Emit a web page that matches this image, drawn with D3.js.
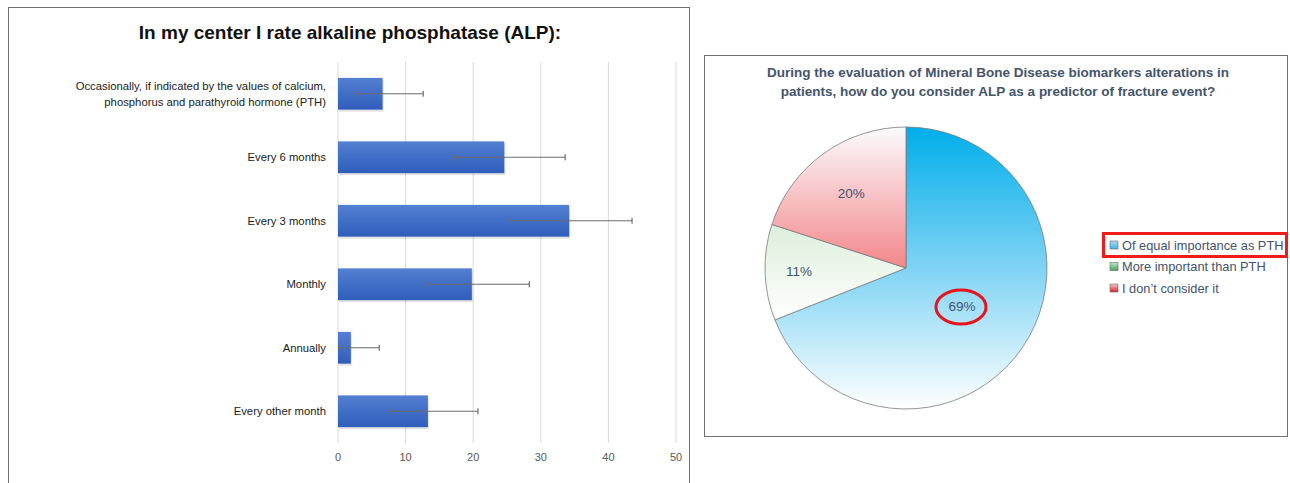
<!DOCTYPE html>
<html>
<head>
<meta charset="utf-8">
<script src="https://cdn.jsdelivr.net/npm/d3@7"></script>
<style>
  body { margin: 0; background: #fff; }
  svg { display: block; font-family: 'Liberation Sans', Arial, sans-serif; }
</style>
</head>
<body>
<svg id="chart" width="1290" height="483"></svg>
<script>
// bar chart data
var categories = [
  'Occasionally, if indicated by the values of calcium,|phosphorus and parathyroid hormone (PTH)',
  'Every 6 months',
  'Every 3 months',
  'Monthly',
  'Annually',
  'Every other month'
];
var values = [6.6, 24.6, 34.2, 19.8, 1.9, 13.3];
var errLow = [2.8, 17.2, 25.4, 13.2, 0.1, 7.7];
var errHigh = [12.6, 33.6, 43.5, 28.3, 6.1, 20.7];
var xTicks = [0, 10, 20, 30, 40, 50];

// pie data
var pieLabels = ['Of equal importance as PTH', 'More important than PTH', 'I don\u2019t consider it'];
var pieValues = [69, 11, 20];
var pieText = ['69%', '11%', '20%'];

var svg = d3.select('#chart');
var defs = svg.append('defs');

// ---------- left panel ----------
svg.append('rect')
  .attr('x', 8.5).attr('y', 7.5)
  .attr('width', 681).attr('height', 490)
  .attr('fill', '#fff').attr('stroke', '#6f6f6f').attr('stroke-width', 1);

svg.append('text')
  .attr('x', 350).attr('y', 39)
  .attr('text-anchor', 'middle')
  .attr('font-size', 19).attr('font-weight', 'bold').attr('fill', '#111')
  .text('In my center I rate alkaline phosphatase (ALP):');

var x = d3.scaleLinear().domain([0, 50]).range([338, 676]);
var y = d3.scaleBand().domain(d3.range(categories.length)).range([62, 443]).paddingInner(0.5).paddingOuter(0.25);

var barGrad = defs.append('linearGradient').attr('id', 'barGrad')
  .attr('x1', 0).attr('y1', 0).attr('x2', 0).attr('y2', 1);
barGrad.append('stop').attr('offset', '0%').attr('stop-color', '#5480d2');
barGrad.append('stop').attr('offset', '100%').attr('stop-color', '#2f5dbb');

var g = svg.append('g');

g.selectAll('line.grid')
  .data(xTicks)
  .enter().append('line')
  .attr('class', 'grid')
  .attr('x1', function(d) { return x(d); })
  .attr('x2', function(d) { return x(d); })
  .attr('y1', 62).attr('y2', 443)
  .attr('stroke', '#d9d9d9').attr('stroke-width', 1);

g.selectAll('text.tick')
  .data(xTicks)
  .enter().append('text')
  .attr('class', 'tick')
  .attr('x', function(d) { return x(d); })
  .attr('y', 461)
  .attr('text-anchor', 'middle')
  .attr('font-size', 11).attr('fill', '#595959')
  .text(function(d) { return d; });

// shadow under bars
g.selectAll('rect.shadow')
  .data(values)
  .enter().append('rect')
  .attr('x', x(0) + 1)
  .attr('y', function(d, i) { return y(i) + 2; })
  .attr('width', function(d) { return x(d) - x(0); })
  .attr('height', y.bandwidth())
  .attr('fill', '#000').attr('opacity', 0.12);

g.selectAll('rect.bar')
  .data(values)
  .enter().append('rect')
  .attr('class', 'bar')
  .attr('x', x(0))
  .attr('y', function(d, i) { return y(i); })
  .attr('width', function(d) { return x(d) - x(0); })
  .attr('height', y.bandwidth())
  .attr('fill', 'url(#barGrad)');

var err = g.selectAll('g.err')
  .data(values)
  .enter().append('g')
  .attr('class', 'err')
  .attr('transform', function(d, i) { return 'translate(0,' + (y(i) + y.bandwidth() / 2) + ')'; });

err.append('line')
  .attr('x1', function(d, i) { return x(errLow[i]); })
  .attr('x2', function(d, i) { return x(errHigh[i]); })
  .attr('stroke', '#6b6b6b').attr('stroke-width', 1.2);
err.append('line')
  .attr('x1', function(d, i) { return x(errLow[i]); })
  .attr('x2', function(d, i) { return x(errLow[i]); })
  .attr('y1', -3).attr('y2', 3)
  .attr('stroke', '#6b6b6b').attr('stroke-width', 1.2);
err.append('line')
  .attr('x1', function(d, i) { return x(errHigh[i]); })
  .attr('x2', function(d, i) { return x(errHigh[i]); })
  .attr('y1', -3).attr('y2', 3)
  .attr('stroke', '#6b6b6b').attr('stroke-width', 1.2);

var catText = g.selectAll('text.cat')
  .data(categories)
  .enter().append('text')
  .attr('class', 'cat')
  .attr('text-anchor', 'end')
  .attr('font-size', 11.3).attr('fill', '#222')
  .attr('transform', function(d, i) {
    var lines = d.split('|').length;
    return 'translate(326,' + (y(i) + y.bandwidth() / 2 + 4 - (lines - 1) * 8) + ')';
  });
catText.selectAll('tspan')
  .data(function(d) { return d.split('|'); })
  .enter().append('tspan')
  .attr('x', 0)
  .attr('dy', function(d, i) { return i === 0 ? 0 : 16; })
  .text(function(d) { return d; });

// ---------- right panel ----------
svg.append('rect')
  .attr('x', 704.5).attr('y', 55.5)
  .attr('width', 583).attr('height', 381)
  .attr('fill', '#fff').attr('stroke', '#6f6f6f').attr('stroke-width', 1);

var titleColor = '#44546a';
svg.append('text')
  .attr('x', 998).attr('y', 77)
  .attr('text-anchor', 'middle')
  .attr('font-size', 13.5).attr('font-weight', 'bold').attr('fill', titleColor)
  .text('During the evaluation of Mineral Bone Disease biomarkers alterations in');
svg.append('text')
  .attr('x', 998).attr('y', 96)
  .attr('text-anchor', 'middle')
  .attr('font-size', 13.5).attr('font-weight', 'bold').attr('fill', titleColor)
  .text('patients, how do you consider ALP as a predictor of fracture event?');

var cx = 906, cy = 268, r = 141;
var pieColors = [
  ['#00aeea', '#ffffff'],
  ['#dcefda', '#ffffff'],
  ['#fbfbfd', '#f3868a']
];
pieColors.forEach(function(c, i) {
  var lg = defs.append('linearGradient').attr('id', 'pg' + i)
    .attr('x1', 0).attr('y1', 0).attr('x2', 0).attr('y2', 1);
  lg.append('stop').attr('offset', '0%').attr('stop-color', c[0]);
  if (i === 0) lg.append('stop').attr('offset', '50%').attr('stop-color', '#7fd3f4');
  lg.append('stop').attr('offset', '100%').attr('stop-color', c[1]);
});

var pie = d3.pie().sort(null)(pieValues);
var arc = d3.arc().innerRadius(0).outerRadius(r);
var pg = svg.append('g').attr('transform', 'translate(' + cx + ',' + cy + ')');

pg.selectAll('path')
  .data(pie)
  .enter().append('path')
  .attr('d', arc)
  .attr('fill', function(d, i) { return 'url(#pg' + i + ')'; })
  .attr('stroke', '#7a7a7a').attr('stroke-width', 0.8);

// label distance from centre, as a fraction of the radius, per slice
var labelRadius = [0.48, 0.76, 0.66];
var labelPos = pie.map(function(d, i) {
  return d3.arc().innerRadius(r * labelRadius[i]).outerRadius(r * labelRadius[i]).centroid(d);
});
pg.selectAll('text.pl')
  .data(pie)
  .enter().append('text')
  .attr('class', 'pl')
  .attr('x', function(d, i) { return labelPos[i][0]; })
  .attr('y', function(d, i) { return labelPos[i][1] + 5; })
  .attr('text-anchor', 'middle')
  .attr('font-size', 13.5).attr('fill', '#44546a')
  .text(function(d, i) { return pieText[i]; });

// red ellipse around the 69% label
pg.append('ellipse')
  .attr('cx', labelPos[0][0] - 1).attr('cy', labelPos[0][1] + 1)
  .attr('rx', 25).attr('ry', 17)
  .attr('fill', 'none').attr('stroke', '#e8141b').attr('stroke-width', 3);

// legend
var legendColors = [['#a9dcf3', '#3fb3e6'], ['#c6e6c8', '#3fa45a'], ['#f7c6c6', '#d9252c']];
legendColors.forEach(function(c, i) {
  var lg = defs.append('linearGradient').attr('id', 'lg' + i)
    .attr('x1', 0).attr('y1', 0).attr('x2', 0).attr('y2', 1);
  lg.append('stop').attr('offset', '0%').attr('stop-color', c[0]);
  lg.append('stop').attr('offset', '100%').attr('stop-color', c[1]);
});
var legend = svg.append('g').attr('transform', 'translate(1110,245)');
var li = legend.selectAll('g')
  .data(pieLabels)
  .enter().append('g')
  .attr('transform', function(d, i) { return 'translate(0,' + i * 21.5 + ')'; });
li.append('rect')
  .attr('x', 0).attr('y', -4)
  .attr('width', 8).attr('height', 8)
  .attr('fill', function(d, i) { return 'url(#lg' + i + ')'; })
  .attr('stroke', '#6a6a6a').attr('stroke-width', 0.6);
li.append('text')
  .attr('x', 12).attr('y', 4.5)
  .attr('font-size', 12.8).attr('fill', '#44546a')
  .text(function(d) { return d; });

svg.append('rect')
  .attr('x', 1103.5).attr('y', 233.5)
  .attr('width', 183).attr('height', 23)
  .attr('fill', 'none').attr('stroke', '#f01b1b').attr('stroke-width', 3);
</script>
</body>
</html>
